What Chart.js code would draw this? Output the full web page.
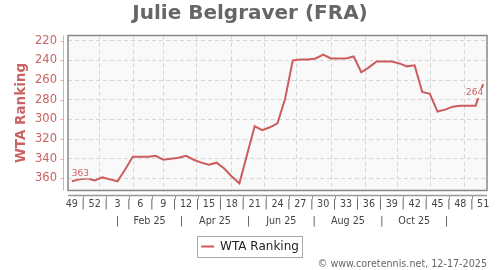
<!DOCTYPE html>
<html><head><meta charset="utf-8">
<script src="https://cdn.jsdelivr.net/npm/chart.js@4/dist/chart.umd.min.js"></script>
<style>html,body{margin:0;padding:0;background:#fff;}canvas{display:block;}</style>
</head><body>
<canvas id="c" width="500" height="270"></canvas>
<script>
// ---- data ----
const weeks = [49,50,51,52,1,2,3,4,5,6,7,8,9,10,11,12,13,14,15,16,17,18,19,20,21,22,23,24,25,26,27,28,29,30,31,32,33,34,35,36,37,38,39,40,41,42,43,44,45,46,47,48,49,50,51];
const ranking = [363,361,360,362,359,361,363,351,338,338,
                 338,337,341,340,339,337,341,344,346,344,
                 350,358,365,336,307,311,308,304,279,240,
                 239,239,238,234,238,238,238,236,252,247,
                 241,241,241,243,246,245,272,274,292,290,
                 287,286,286,286,264];
const weekTicks = ['49','52','3','6','9','12','15','18','21','24','27','30','33','36','39','42','45','48','51'];
const monthTicks = ['Feb 25','Apr 25','Jun 25','Aug 25','Oct 25'];
const monthBounds = [6.0, 14.4, 23.2, 31.8, 40.7, 49.2];
const gridPos = [3.7, 8.1, 12.0, 16.4, 20.9, 25.3, 29.5, 34.1, 38.5, 42.7, 47.1, 51.5];
const yTicks = [220,240,260,280,300,320,340,360];
const seriesName = 'WTA Ranking';

const RED = '#cd5c5c';
const TXTRED = '#c96262';
const PLOTBG = '#f9f9f9';
const X_MIN = -0.5, X_MAX = weeks.length - 0.5;
const FONT = 'DejaVu Sans';

function labelWithBg(ctx, text, x, y, align) {
  const w = ctx.measureText(text).width;
  const left = align === 'left' ? x : x - w;
  ctx.fillStyle = PLOTBG;
  ctx.fillRect(left - 1, y - 5, w + 2, 10);
  ctx.fillStyle = TXTRED;
  ctx.textAlign = align;
  ctx.fillText(text, x, y);
}

const decor = {
  id: 'decor',
  beforeDraw(chart) {
    const {ctx, chartArea: a} = chart;
    ctx.save();
    ctx.fillStyle = PLOTBG;
    ctx.fillRect(a.left, a.top, a.right - a.left, a.bottom - a.top);
    ctx.restore();
  },
  beforeDatasetsDraw(chart) {
    const {ctx, chartArea: a, scales} = chart;
    ctx.save();
    ctx.strokeStyle = '#888';
    ctx.lineWidth = 1.5;
    ctx.strokeRect(a.left, a.top, a.right - a.left, a.bottom - a.top);
    ctx.strokeStyle = 'rgba(205,92,92,0.5)';
    ctx.lineWidth = 1;
    const yx = Math.round(a.left - 5) + 0.5;
    ctx.beginPath();
    ctx.moveTo(yx, a.top); ctx.lineTo(yx, a.bottom);
    scales.y.ticks.forEach(t => {
      const py = Math.round(scales.y.getPixelForValue(t.value)) + 0.5;
      ctx.moveTo(yx - 3, py); ctx.lineTo(yx, py);
    });
    ctx.stroke();
    ctx.strokeStyle = '#999';
    ctx.lineWidth = 1.5;
    const xy = a.bottom + 5;
    ctx.beginPath();
    ctx.moveTo(a.left, xy); ctx.lineTo(a.right, xy);
    ctx.stroke();
    ctx.lineWidth = 1;
    ctx.beginPath();
    scales.x.ticks.forEach((t, i) => {
      if (i % 2 === 1) {
        const px = Math.round(scales.x.getPixelForValue(t.value)) + 0.5;
        ctx.moveTo(px, xy); ctx.lineTo(px, xy + 4);
      }
    });
    ctx.stroke();
    ctx.restore();
  },
  afterDatasetsDraw(chart) {
    const {ctx} = chart;
    const pts = chart.getDatasetMeta(0).data;
    ctx.save();
    ctx.font = '9px "DejaVu Sans"';
    ctx.textBaseline = 'middle';
    const p0 = pts[0], pn = pts[pts.length - 1];
    labelWithBg(ctx, String(ranking[0]), p0.x, p0.y - 8, 'left');
    labelWithBg(ctx, String(ranking[ranking.length - 1]), pn.x, pn.y + 9, 'right');
    ctx.restore();
  },
  afterDraw(chart) {
    const lg = chart.legend;
    if (!lg || !lg.legendHitBoxes || !lg.legendHitBoxes.length) return;
    const hb = lg.legendHitBoxes[0];
    const ctx = chart.ctx;
    ctx.save();
    ctx.strokeStyle = '#aaa';
    ctx.lineWidth = 1;
    ctx.strokeRect(Math.round(hb.left - 4) + 0.5, Math.round(hb.top - 4) + 0.5, Math.round(hb.width + 7), Math.round(hb.height + 9));
    ctx.restore();
  }
};

new Chart(document.getElementById('c'), {
  type: 'line',
  data: {
    datasets: [{
      label: seriesName,
      data: ranking.map((v, i) => ({x: i, y: v})),
      borderColor: RED,
      backgroundColor: RED,
      borderWidth: 2,
      pointRadius: 0,
      tension: 0,
      fill: false
    }]
  },
  options: {
    responsive: false,
    animation: false,
    devicePixelRatio: 1,
    layout: {padding: {left: 0, right: 0, top: 0, bottom: 0}},
    plugins: {
      title: {
        display: true, text: 'Julie Belgraver (FRA)', color: '#666',
        font: {family: FONT, size: 20, weight: 'bold'},
        padding: {top: 1.5, bottom: 10}
      },
      subtitle: {
        display: true, text: '© www.coretennis.net, 12-17-2025', position: 'bottom', align: 'end',
        fullSize: false,
        color: '#666', font: {family: FONT, size: 9.6}, padding: {top: -4, bottom: 0}
      },
      legend: {
        display: true, position: 'bottom',
        labels: {
          usePointStyle: true, pointStyle: 'line', pointStyleWidth: 13,
          padding: 4, color: '#222', font: {family: FONT, size: 12}
        }
      },
      tooltip: {enabled: false}
    },
    scales: {
      x: {
        type: 'linear', position: 'bottom', min: X_MIN, max: X_MAX, weight: 0,
        afterBuildTicks: s => {
          const t = [];
          weekTicks.forEach((w, k) => {
            t.push({value: 3 * k});
            if (k < weekTicks.length - 1) t.push({value: 3 * k + 1.5});
          });
          s.ticks = t;
        },
        ticks: {
          autoSkip: false, maxRotation: 0, minRotation: 0, padding: 0, color: '#444',
          font: {family: FONT, size: 9.6},
          callback: (v, i) => (i % 2 === 0 ? weekTicks[i / 2] : '|')
        },
        grid: {display: false, drawTicks: true, tickLength: 8},
        border: {display: false},
        afterFit: s => { s.height = 22; }
      },
      xm: {
        type: 'linear', position: 'bottom', min: X_MIN, max: X_MAX, weight: 1,
        afterBuildTicks: s => {
          const t = [];
          monthBounds.forEach((b, k) => {
            t.push({value: b});
            if (k < monthTicks.length) t.push({value: (b + monthBounds[k + 1]) / 2});
          });
          s.ticks = t;
        },
        ticks: {
          autoSkip: false, maxRotation: 0, minRotation: 0, padding: 0, color: '#444',
          font: {family: FONT, size: 9.6},
          callback: (v, i) => (i % 2 === 1 ? monthTicks[(i - 1) / 2] : '|')
        },
        grid: {display: false, drawTicks: true, tickLength: 3},
        border: {display: false},
        afterFit: s => { s.height = 24; }
      },
      xg: {
        type: 'linear', position: 'bottom', min: X_MIN, max: X_MAX, weight: 2,
        afterBuildTicks: s => { s.ticks = gridPos.map(v => ({value: v})); },
        ticks: {display: false},
        grid: {display: true, drawOnChartArea: true, drawTicks: false, color: '#d6d6d6', lineWidth: 1},
        border: {display: false, dash: [4, 3]},
        afterFit: s => { s.height = 0; }
      },
      y: {
        type: 'linear', position: 'left', reverse: true, min: 214.6, max: 372.3,
        afterBuildTicks: s => { s.ticks = yTicks.map(v => ({value: v})); },
        ticks: {padding: 11, color: TXTRED, font: {family: FONT, size: 11.5}},
        grid: {color: '#d6d6d6', lineWidth: 1, drawTicks: false},
        border: {display: false, dash: [4, 3]},
        title: {
          display: true, text: seriesName, color: TXTRED,
          font: {family: FONT, size: 13.5, weight: 'bold'}, padding: {top: 12.9, bottom: 0}
        },
        afterFit: s => { s.width = 68; }
      },
      yr: {
        type: 'linear', position: 'right', display: true,
        ticks: {display: false},
        grid: {display: false, drawTicks: false},
        border: {display: false},
        afterFit: s => { s.width = 13; }
      }
    }
  },
  plugins: [decor]
});
</script>
</body></html>
